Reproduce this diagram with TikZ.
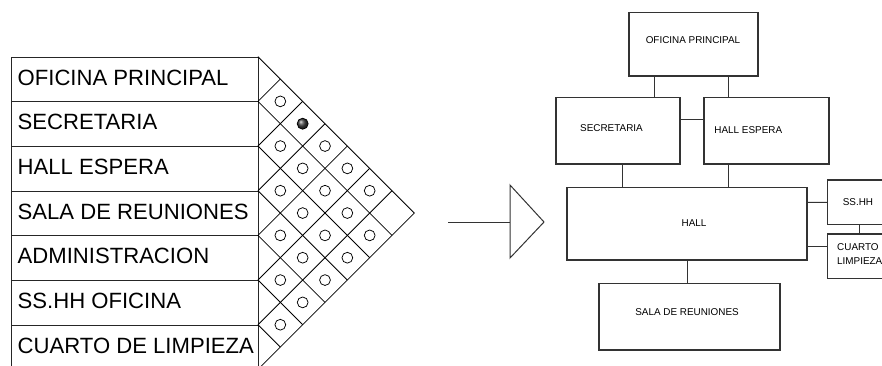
\documentclass[tikz,border=0pt]{standalone}
\usepackage{fontspec}
\setmainfont{Liberation Sans}
\begin{document}
\begin{tikzpicture}[x=1pt,y=-1pt,
  rowbox/.style={draw=black!85, line width=0.9pt, minimum width=247pt, minimum height=44.67pt, inner sep=0pt, anchor=north west},
  rowtext/.style={anchor=base west, inner sep=0pt, font=\fontsize{22.1}{26}\selectfont},
  gridline/.style={draw=black, line width=0.8pt},
  dot/.style={circle, draw=black, line width=0.75pt, minimum size=10.8pt, inner sep=0pt},
  room/.style={draw=black!80, line width=1.1pt, rectangle, inner sep=0pt},
  lbl/.style={inner sep=0pt, font=\fontsize{9.9}{12}\selectfont},
  link/.style={draw=black!80, line width=1pt}]
\useasboundingbox (0,0) rectangle (882,365);
\clip (0,0) rectangle (882,365);
\def\h{44.67}
\def\yo{56.7}
% ---- table rows
\foreach \t [count=\i from 0] in {OFICINA PRINCIPAL, SECRETARIA, HALL ESPERA, SALA DE REUNIONES, ADMINISTRACION, SS.HH OFICINA, CUARTO DE LIMPIEZA} {
  \node[rowbox] (r\i) at (11,{\yo+\i*\h}) {};
  \node[rowtext] (t\i) at (17.5,{\yo+\i*\h+28.4}) {\t};
}
% ---- relationship matrix grid
\draw[gridline] (258,\yo) -- ({258+3.5*\h},{\yo+3.5*\h}) -- (258,{\yo+7*\h});
\foreach \k in {1,...,6} {
  \draw[gridline] (258,{\yo+\k*\h}) -- ++({(7-\k)*\h/2},{(7-\k)*\h/2});
  \draw[gridline] (258,{\yo+\k*\h}) -- ++({\k*\h/2},{-\k*\h/2});
}
\foreach \a/\b in {0/1,1/2,0/3,1/3,0/4,2/3,1/4,0/5,2/4,1/5,3/4,2/5,1/6,3/5,2/6,4/5,3/6,4/6,5/6}
  \node[dot] (c\a\b) at ({258+(\b-\a)*\h/2},{\yo+(\a+\b+1)*\h/2}) {};
\node[dot, ball color=black!75, minimum size=11pt] (c02) at ({258+2*\h/2},{\yo+3*\h/2}) {};
% ---- big arrow
\coordinate (as) at (448,222);
\coordinate (ab) at (510,222);
\draw[link] (as) -- (ab);
\draw[link] (510,185) -- (544,222) -- (510,258) -- cycle;
% ---- bubble diagram
\node[room, minimum width=129pt, minimum height=63.3pt] (op) at (693.5,44.35) {};
\node[room, minimum width=124pt, minimum height=66.3pt] (sec) at (618,130.85) {};
\node[room, minimum width=125pt, minimum height=66.3pt] (he) at (766.5,130.85) {};
\node[room, minimum width=240pt, minimum height=72.7pt] (hall) at (687,223.65) {};
\node[room, minimum width=80pt, minimum height=44.5pt] (ss) at (867.3,202.25) {};
\node[room, minimum width=80pt, minimum height=44.3pt] (cl) at (867.3,256.15) {};
\node[room, minimum width=181pt, minimum height=66.7pt] (sala) at (689.5,316.65) {};
\node[lbl] (lop) at (693,40) {OFICINA PRINCIPAL};
\node[lbl] (lsec) at (611.5,128) {SECRETARIA};
\node[lbl] (lhe) at (748.3,130) {HALL ESPERA};
\node[lbl] (lhall) at (694,223) {HALL};
\node[lbl] (lss) at (858,202) {SS.HH};
\node[lbl, anchor=west, align=left, font=\fontsize{9.9}{14}\selectfont] (lcl) at (837,254) {CUARTO\\LIMPIEZA};
\node[lbl] (lsala) at (687,311.7) {SALA DE REUNIONES};
% ---- connectors
\draw[link] ([xshift=-39.5pt]op.south) -- ([xshift=36pt]sec.north);
\draw[link] ([xshift=34.5pt]op.south) -- ([xshift=-38.5pt]he.north);
\draw[link] ([yshift=11.5pt]sec.east) -- ([yshift=11.5pt]he.west);
\draw[link] ([xshift=4.7pt]sec.south) -- ([xshift=-64.3pt]hall.north);
\draw[link] ([xshift=-38.5pt]he.south) -- ([xshift=41pt]hall.north);
\draw[link] ([yshift=21.35pt]hall.east) -- (ss.west);
\draw[link] ([yshift=-23.05pt]hall.east) -- ([yshift=9.45pt]cl.west);
\draw[link] ([xshift=-8pt]ss.south) -- ([xshift=-8pt]cl.north);
\draw[link] (hall.south) -- ([xshift=-2.5pt]sala.north);
\end{tikzpicture}
\end{document}
